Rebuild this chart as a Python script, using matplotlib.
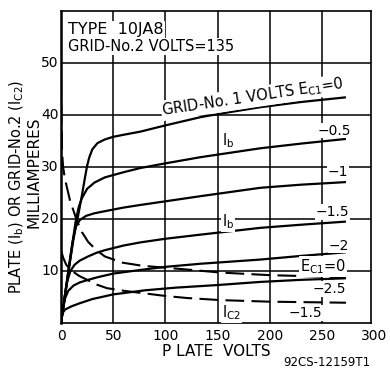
import numpy as np
import matplotlib
matplotlib.use('Agg')
import matplotlib.pyplot as plt

# plate current Ib (mA) for each grid-No.1 voltage
v_0 = [0, 4, 8, 12, 16, 20, 23, 25, 27, 30, 35, 42, 50, 60, 76, 100, 134, 160, 191, 230, 273]
ib_0 = [0, 5.5, 11, 16.2, 20.2, 24.5, 28, 30.2, 31.8, 33.4, 34.6, 35.3, 35.8, 36.2, 36.8, 38, 39.6, 40.5, 41.5, 42.5, 43.4]

v_05 = [0, 5, 10, 14, 17, 20, 25, 32, 42, 60, 76, 100, 134, 191, 230, 273]
ib_05 = [0, 7, 14, 19.5, 22.3, 24, 25.8, 27, 28, 29, 29.8, 30.7, 31.9, 33.6, 34.5, 35.4]

v_1 = [0, 4, 8, 11, 14, 18, 24, 32, 42, 60, 76, 100, 134, 191, 230, 273]
ib_1 = [0, 5.7, 11.4, 15.5, 18.5, 19.8, 20.6, 21.1, 21.5, 22.2, 22.7, 23.4, 24.4, 26, 26.6, 27.1]

v_15 = [0, 3, 6, 9, 13, 18, 26, 34, 42, 60, 76, 100, 134, 191, 230, 273]
ib_15 = [0, 4.3, 8, 10, 11.2, 12, 12.8, 13.5, 14, 14.9, 15.5, 16.2, 17, 18.3, 18.9, 19.5]

v_2 = [0, 2, 4, 7, 12, 18, 26, 35, 50, 76, 100, 134, 191, 230, 273]
ib_2 = [0, 2.8, 4.8, 6.2, 7.2, 7.8, 8.3, 8.8, 9.5, 10.2, 10.8, 11.4, 12.2, 12.9, 13.6]

v_25 = [0, 1, 4, 10, 18, 30, 50, 81, 110, 150, 191, 230, 273]
ib_25 = [0, 1.8, 2.6, 3.2, 3.8, 4.6, 5.5, 6.3, 6.8, 7.3, 7.9, 8.3, 8.6]

# grid-No.2 current Ic2 (mA), dashed
v_c2_0 = [0, 0.5, 1, 2, 4, 8.6, 15, 20, 26, 34, 42, 59, 78, 114, 153, 200, 273]
ic2_0 = [47, 38, 33, 30, 27.5, 23.6, 19.8, 17.5, 15.6, 14, 12.8, 11.6, 11.0, 10.4, 9.7, 9.2, 8.8]

v_c2_15 = [0, 2, 5, 10, 17, 25, 34, 44, 60, 76, 100, 121, 153, 200, 273]
ic2_15 = [14, 12.6, 11.2, 10.1, 9.1, 8.3, 7.4, 6.7, 6.2, 5.8, 5.2, 4.8, 4.4, 4.1, 3.9]

x_ticks = [0, 50, 100, 150, 200, 250, 300]
y_ticks = [10, 20, 30, 40, 50]

fig = plt.figure(figsize=(3.9, 3.68), dpi=100)
ax = fig.add_axes([61/390, 45/368, 310/390, 312/368])

ax.set_xlim(0, 297)
ax.set_ylim(0, 60)

# grid
for x in x_ticks[1:-1]:
    ax.axvline(x, color='k', lw=1.1, zorder=1)
for y in y_ticks:
    ax.axhline(y, color='k', lw=1.1, zorder=1)

# plate current curves
for v, ib in [(v_0, ib_0), (v_05, ib_05), (v_1, ib_1), (v_15, ib_15), (v_2, ib_2), (v_25, ib_25)]:
    ax.plot(v, ib, 'k-', lw=1.6, zorder=3, solid_capstyle='butt')

# screen current curves
for v, ic in [(v_c2_0, ic2_0), (v_c2_15, ic2_15)]:
    ax.plot(v, ic, 'k-', lw=1.5, dashes=(9, 3.5), zorder=3)

ax.set_xticks([])
ax.set_yticks([])
for s in ax.spines.values():
    s.set_linewidth(1.2)
ax.spines['left'].set_linewidth(1.8)

# tick labels drawn as text so 300 can sit past the border
for x in x_ticks:
    ax.text(x, -1.2, str(x), ha='center', va='top', fontsize=10, clip_on=False)
for y in y_ticks:
    ax.text(-2, y, str(y), ha='right', va='center', fontsize=10, clip_on=False)

box = dict(facecolor='white', edgecolor='none', pad=0.6)
ax.text(7, 56.4, 'TYPE  10JA8', fontsize=11.5, ha='left', va='center', bbox=box, zorder=4)
ax.text(7, 53.2, 'GRID-No.2 VOLTS=135', fontsize=10.5, ha='left', va='center', bbox=box, zorder=4)

ax.text(184, 43.4, r'GRID-No. 1 VOLTS E$_{\rm C1}$=0', fontsize=10.5, rotation=8.5,
        ha='center', va='center', bbox=box, zorder=4)
ax.text(160, 35.0, r'I$_{\rm b}$', fontsize=10.5, ha='center', va='center', bbox=box, zorder=4)
ax.text(160, 19.4, r'I$_{\rm b}$', fontsize=10.5, ha='center', va='center', bbox=box, zorder=4)
ax.text(262, 37.0, '\u22120.5', fontsize=10, ha='center', va='center', bbox=box, zorder=4)
ax.text(265, 29.0, '\u22121', fontsize=10, ha='center', va='center', bbox=box, zorder=4)
ax.text(260, 21.3, '\u22121.5', fontsize=10, ha='center', va='center', bbox=box, zorder=4)
ax.text(266, 14.9, '\u22122', fontsize=10, ha='center', va='center', bbox=box, zorder=4)
ax.text(251, 10.9, r'E$_{\rm C1}$=0', fontsize=10.5, ha='center', va='center', bbox=box, zorder=4)
ax.text(257, 6.6, '\u22122.5', fontsize=10, ha='center', va='center', bbox=box, zorder=4)
ax.text(163, 1.9, r'I$_{\rm C2}$', fontsize=10.5, ha='center', va='center', bbox=box, zorder=4)
ax.text(234, 1.9, '\u22121.5', fontsize=10, ha='center', va='center', bbox=box, zorder=4)

# axis titles
fig.text(216/390, 1 - 352/368, 'P LATE  VOLTS', fontsize=11, ha='center', va='center')
fig.text(327/390, 1 - 363/368, '92CS-12159T1', fontsize=8.5, ha='center', va='center')
fig.text(17/390, 1 - 187/368, r'PLATE (I$_{\rm b}$) OR GRID-No.2 (I$_{\rm C2}$)',
         fontsize=10.5, rotation=90, ha='center', va='center')
fig.text(34/390, 1 - 172/368, 'MILLIAMPERES', fontsize=11, rotation=90, ha='center', va='center')

fig.savefig('out.png', dpi=100)
